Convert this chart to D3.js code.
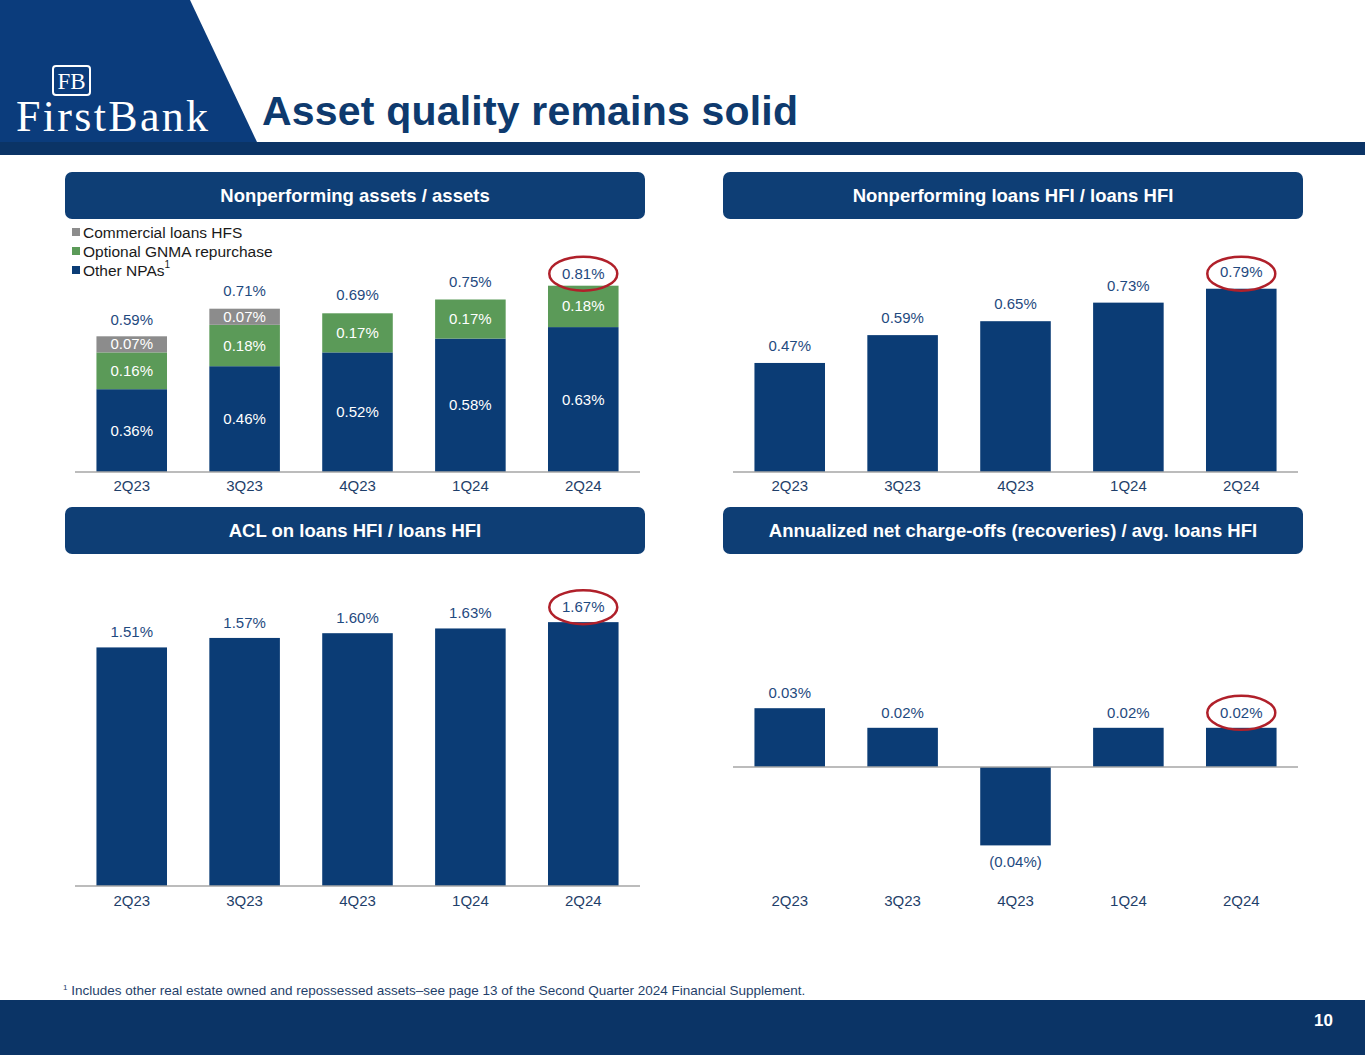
<!DOCTYPE html>
<html><head><meta charset="utf-8">
<script src="https://cdn.jsdelivr.net/npm/d3@7"></script>
<style>body{margin:0;background:#fff}svg{display:block;font-family:Arial,"Liberation Sans",sans-serif}</style>
</head><body><svg id="c" width="1365" height="1055"></svg>
<script>
var quarters = ['2Q23','3Q23','4Q23','1Q24','2Q24'];
var otherNPA = [0.36,0.46,0.52,0.58,0.63];
var gnma = [0.16,0.18,0.17,0.17,0.18];
var hfs = [0.07,0.07,0,0,0];
var npaTotal = [0.59,0.71,0.69,0.75,0.81];
var nplRatio = [0.47,0.59,0.65,0.73,0.79];
var aclRatio = [1.51,1.57,1.60,1.63,1.67];
var ncoRatio = [0.03,0.02,-0.04,0.02,0.02];

var NAVY = '#0b3c75', GREEN = '#5b9a58', GREY = '#8c8c8c', TXT = '#1f4a80';
var svg = d3.select('#c');

// header
svg.append('path').attr('d','M0,0 L190,0 L257,142 L0,142Z').attr('fill','#0b3c7c');
svg.append('rect').attr('x',0).attr('y',142).attr('width',1365).attr('height',13).attr('fill','#0b3466');
svg.append('rect').attr('x',53).attr('y',66).attr('width',37).attr('height',29).attr('fill','none').attr('stroke','#fff').attr('stroke-width',2).attr('rx',3);
svg.append('text').attr('x',71.5).attr('y',89).attr('text-anchor','middle').attr('fill','#fff')
  .style('font-family','"Liberation Serif",serif').style('font-size','23px').text('FB');
svg.append('text').attr('x',112).attr('y',131).attr('text-anchor','middle').attr('fill','#fff')
  .style('font-family','"Liberation Serif",serif').style('font-size','44px').attr('textLength',192).text('FirstBank');
svg.append('text').attr('x',262).attr('y',125).attr('fill','#0e3a6e').style('font-weight','bold').style('font-size','41px').attr('textLength',536).text('Asset quality remains solid');

// footer
svg.append('rect').attr('x',0).attr('y',1000).attr('width',1365).attr('height',55).attr('fill','#0b3466');
svg.append('text').attr('x',1333).attr('y',1026).attr('text-anchor','end').attr('fill','#fff').style('font-weight','bold').style('font-size','17px').text('10');
var fn = svg.append('text').attr('x',63).attr('y',995).attr('fill','#1f3f6a').style('font-size','13.5px');
fn.append('tspan').style('font-size','8px').attr('dy',-5).text('1');
fn.append('tspan').attr('dy',5).text(' Includes other real estate owned and repossessed assets\u2013see page 13 of the Second Quarter 2024 Financial Supplement.');

function pill(x,y,w,t){
  svg.append('rect').attr('x',x).attr('y',y).attr('width',w).attr('height',47).attr('rx',7).attr('fill','#0e3e75');
  svg.append('text').attr('x',x+w/2).attr('y',y+30).attr('text-anchor','middle').attr('fill','#fff').style('font-weight','bold').style('font-size','18.5px').text(t);
}
pill(65,172,580,'Nonperforming assets / assets');
pill(723,172,580,'Nonperforming loans HFI / loans HFI');
pill(65,507,580,'ACL on loans HFI / loans HFI');
pill(723,507,580,'Annualized net charge-offs (recoveries) / avg. loans HFI');

function fmt(v){ return v<0 ? '('+Math.abs(v).toFixed(2)+'%)' : v.toFixed(2)+'%'; }
function ring(x,y){
  svg.append('ellipse').attr('cx',x).attr('cy',y).attr('rx',34).attr('ry',17).attr('fill','none').attr('stroke','#b0202a').attr('stroke-width',2.5);
}

function panel(x0,x1,yDom,yRange,vals,labY,stack){
  var x = d3.scaleBand().domain(quarters).range([x0,x1]).paddingInner(0.375).paddingOuter(0.19);
  var y = d3.scaleLinear().domain(yDom).range(yRange);
  var g = svg.append('g');
  if(stack){
    var rows = quarters.map(function(q,i){ return {q:q, o:otherNPA[i], g:gnma[i], h:hfs[i]}; });
    var st = d3.stack().keys(['o','g','h'])(rows);
    var cols = [NAVY,GREEN,GREY];
    st.forEach(function(s,k){
      g.selectAll(null).data(s).join('rect')
        .attr('x',function(d){return x(d.data.q);}).attr('width',x.bandwidth())
        .attr('y',function(d){return y(d[1]);}).attr('height',function(d){return y(d[0])-y(d[1]);})
        .attr('fill',cols[k]);
      g.selectAll(null).data(s.filter(function(d){return d[1]-d[0]>0;})).join('text')
        .attr('x',function(d){return x(d.data.q)+x.bandwidth()/2;})
        .attr('y',function(d){ return (y(d[0])+y(d[1]))/2+5;})
        .attr('text-anchor','middle').attr('fill','#fff').style('font-size','15px')
        .text(function(d){return fmt(d[1]-d[0]);});
    });
    g.selectAll(null).data(npaTotal).join('text')
      .attr('x',function(d,i){return x(quarters[i])+x.bandwidth()/2;})
      .attr('y',function(d,i){return y(d)-(i==4?7:i==0?11:13);})
      .attr('text-anchor','middle').attr('fill',TXT).style('font-size','15px').text(fmt);
  } else {
    g.selectAll(null).data(vals).join('rect')
      .attr('x',function(d,i){return x(quarters[i]);}).attr('width',x.bandwidth())
      .attr('y',function(d){return y(Math.max(0,d));}).attr('height',function(d){return Math.abs(y(d)-y(0));})
      .attr('fill',NAVY);
    g.selectAll(null).data(vals).join('text')
      .attr('x',function(d,i){return x(quarters[i])+x.bandwidth()/2;})
      .attr('y',function(d){return d<0? y(d)+22 : y(d)-(vals==nplRatio?12:10);})
      .attr('text-anchor','middle').attr('fill',TXT).style('font-size','15px').text(fmt);
  }
  g.append('line').attr('x1',x0).attr('x2',x1).attr('y1',y(0)).attr('y2',y(0)).attr('stroke','#a6a6a6').attr('stroke-width',1.5);
  var ax = svg.append('g').attr('transform','translate(0,'+labY+')')
    .call(d3.axisBottom(x).tickSize(0).tickPadding(0));
  ax.select('.domain').remove();
  ax.selectAll('text').attr('fill','#1f3f6a').style('font-size','15px').style('font-family','Arial,"Liberation Sans",sans-serif');
  var last = vals ? vals[4] : npaTotal[4];
  ring(x('2Q24')+x.bandwidth()/2, y(last)-(stack?12:15));
}

panel(75,640,[0,1],[472,242],null,480,true);
panel(733,1298,[0,1],[472,240],nplRatio,480,false);
panel(75,640,[0,2],[886,570],aclRatio,895,false);
panel(733,1298,[-0.05,0.05],[865,669],ncoRatio,895,false);

// legend
var leg = [['Commercial loans HFS',GREY],['Optional GNMA repurchase',GREEN],['Other NPAs',NAVY]];
leg.forEach(function(l,i){
  svg.append('rect').attr('x',72).attr('y',228+i*19).attr('width',8).attr('height',8).attr('fill',l[1]);
  var t = svg.append('text').attr('x',83).attr('y',238+i*19).attr('fill','#1a1a1a').style('font-size','15.5px').text(l[0]);
  if(i==2) t.append('tspan').attr('dy',-8).style('font-size','10px').text('1');
});
</script></body></html>
